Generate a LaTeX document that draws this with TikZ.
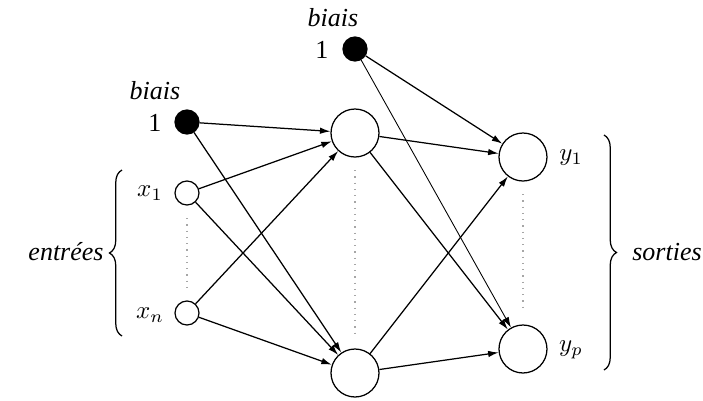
\documentclass[tikz,border=0pt]{standalone}
\usepackage{fontspec}
\setmainfont{LiberationSerif}[Extension=.ttf,UprightFont=*-Regular,ItalicFont=*-Italic,BoldFont=*-Bold,BoldItalicFont=*-BoldItalic]
\usetikzlibrary{arrows.meta,decorations.pathreplacing}

\begin{document}
\begin{tikzpicture}[x=0.4pt, y=-0.4pt, line width=0.5pt, >={Latex[length=4.2pt,width=2.6pt]},
  neuron/.style={circle,draw,fill=white,inner sep=0pt,minimum size=19.2pt},
  entree/.style={circle,draw,fill=white,inner sep=0pt,minimum size=9.6pt},
  biasnode/.style={circle,draw,fill=black,inner sep=0pt,minimum size=9.6pt},
  txt/.style={inner sep=0pt,font=\fontsize{10.4}{12}\selectfont},
  pointille/.style={gray!70,dotted,shorten >=5pt,shorten <=5pt}]

\useasboundingbox (0,0) rectangle (703,401);

% couche d'entree
\node[biasnode] (b1) at (187,122) {};
\node[entree] (x1) at (187,193) {};
\node[entree] (xn) at (187,313) {};

% couche cachee
\node[biasnode] (b2) at (355,49) {};
\node[neuron] (h1) at (355,133) {};
\node[neuron] (hm) at (355,373) {};

% couche de sortie
\node[neuron] (y1) at (523,157) {};
\node[neuron] (yp) at (523,349) {};

% etiquettes
\node[txt] (tb1) at (155,91) {\textit{biais}};
\node[txt] (un1) at (155,123) {1};
\node[txt] (tb2) at (333,18) {\textit{biais}};
\node[txt] (un2) at (322,50) {1};
\node[txt] (lx1) at (150,193) {$x_1$};
\node[txt] (lxn) at (150,315) {$x_n$};
\node[txt] (ly1) at (571,158) {$y_1$};
\node[txt] (lyp) at (571,350) {$y_p$};
\node[txt] (entrees) at (66,252) {\textit{entrées}};
\node[txt] (sorties) at (667,252) {\textit{sorties}};

% accolades
\draw[decorate,decoration={brace,amplitude=5pt}] (122,336) -- (122,170);
\draw[decorate,decoration={brace,amplitude=5pt}] (604,135) -- (604,370);

% pointilles
\draw[pointille] (x1) -- (xn);
\draw[pointille] (h1) -- (hm);
\draw[pointille] (y1) -- (yp);

% connexions
\draw[->] (b1) -- (h1);
\draw[->] (b1) -- (hm);
\draw[->] (x1) -- (h1);
\draw[->] (x1) -- (hm);
\draw[->] (xn) -- (h1);
\draw[->] (xn) -- (hm);
\draw[->] (b2) -- (y1);
\draw[->, line width=0.35pt] (b2) -- (yp);
\draw[->] (h1) -- (y1);
\draw[->] (h1) -- (yp);
\draw[->] (hm) -- (y1);
\draw[->] (hm) -- (yp);

\end{tikzpicture}
\end{document}
